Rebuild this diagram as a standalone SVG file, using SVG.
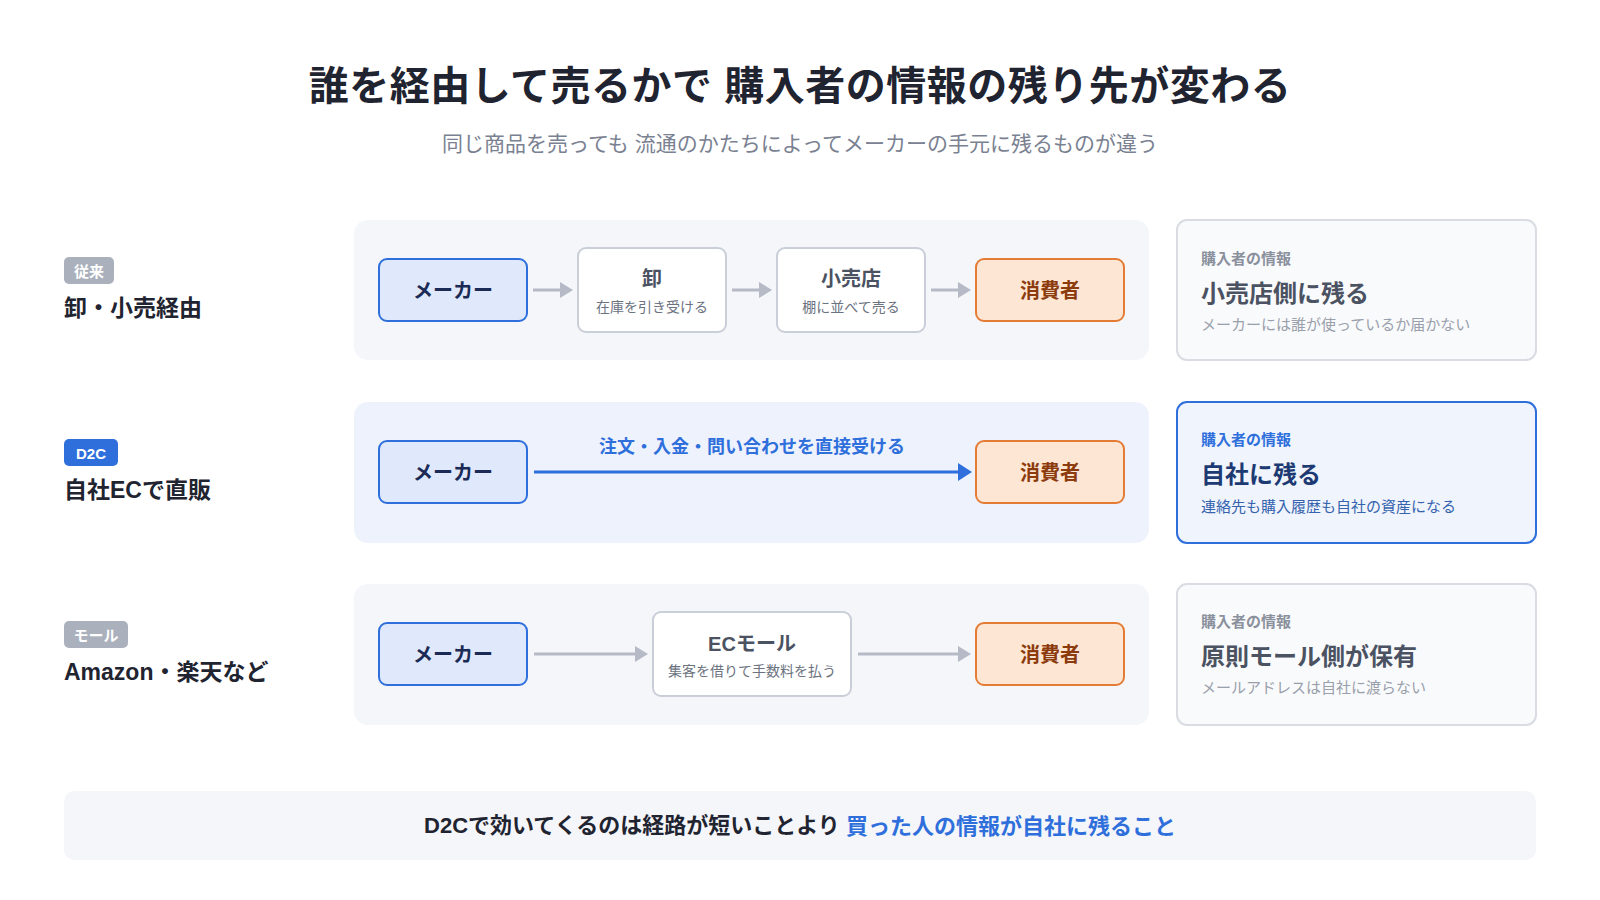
<svg xmlns="http://www.w3.org/2000/svg" width="1600" height="900" viewBox="0 0 1600 900">
  <defs>
    <style>
      text { font-family: "Liberation Sans", "Noto Sans CJK JP", sans-serif; dominant-baseline: central; }
      .title { font-size: 40px; font-weight: 700; fill: #1f2430; letter-spacing: 0.5px; }
      .subtitle { font-size: 21px; font-weight: 400; fill: #7a8191; }
      .panel { fill: #f4f6fa; }
      .panel-d2c { fill: #edf2fc; }
      .badge-gray { fill: #aab0bc; }
      .badge-blue { fill: #2f6fdc; }
      .badge-text { font-size: 15px; font-weight: 700; fill: #ffffff; }
      .row-label { font-size: 23px; font-weight: 700; fill: #1f2430; }
      .maker { fill: #dfe9fb; stroke: #2f6fdc; stroke-width: 2; }
      .maker-text { font-size: 20px; font-weight: 700; fill: #1b2b55; }
      .consumer { fill: #fde6d4; stroke: #e47c35; stroke-width: 2; }
      .consumer-text { font-size: 20px; font-weight: 700; fill: #8b3b0c; }
      .mid { fill: #ffffff; stroke: #c9ced8; stroke-width: 2; }
      .mid-title { font-size: 20px; font-weight: 700; fill: #4b5262; }
      .mid-sub { font-size: 14px; font-weight: 400; fill: #6b7280; }
      .card { fill: #f9fafc; stroke: #d9dce3; stroke-width: 2; }
      .card-blue { fill: #eff4fd; stroke: #2f6fdc; stroke-width: 2; }
      .card-label { font-size: 15px; font-weight: 700; fill: #8a909c; }
      .card-title { font-size: 24px; font-weight: 700; fill: #4b5262; }
      .card-sub { font-size: 15px; font-weight: 400; fill: #9aa0ab; }
      .card-label-blue { font-size: 15px; font-weight: 700; fill: #2f6fdc; }
      .card-title-blue { font-size: 24px; font-weight: 700; fill: #1d3a72; }
      .card-sub-blue { font-size: 15px; font-weight: 400; fill: #3563ad; }
      .arrow-gray { stroke: #b5bac6; stroke-width: 3; fill: none; marker-end: url(#head-gray); }
      .arrow-blue { stroke: #2f6fdc; stroke-width: 3; fill: none; marker-end: url(#head-blue); }
      .arrow-label { font-size: 18px; font-weight: 700; fill: #2f6fdc; }
      .footer { fill: #f4f6fa; }
      .footer-text { font-size: 22px; font-weight: 700; fill: #1f2430; }
      .footer-em { fill: #2f6fdc; }
    </style>
    <marker id="head-gray" markerUnits="userSpaceOnUse" markerWidth="13" markerHeight="16" refX="7" refY="8" orient="auto">
      <path d="M0,0 L13,8 L0,16 Z" fill="#b5bac6"/>
    </marker>
    <marker id="head-blue" markerUnits="userSpaceOnUse" markerWidth="14" markerHeight="18" refX="7" refY="9" orient="auto">
      <path d="M0,0 L14,9 L0,18 Z" fill="#2f6fdc"/>
    </marker>
  </defs>

  <rect width="1600" height="900" fill="#ffffff"/>

  <g id="header">
    <text class="title" x="800" y="86" text-anchor="middle">誰を経由して売るかで 購入者の情報の残り先が変わる</text>
    <text class="subtitle" x="800" y="143.5" text-anchor="middle">同じ商品を売っても 流通のかたちによってメーカーの手元に残るものが違う</text>
  </g>

  <!-- Row panels -->
  <g id="panels">
    <rect class="panel" x="354" y="220" width="795" height="140" rx="14"/>
    <rect class="panel-d2c" x="354" y="402" width="795" height="141" rx="14"/>
    <rect class="panel" x="354" y="584" width="795" height="141" rx="14"/>
  </g>

  <!-- Row labels -->
  <g id="label-row1">
    <rect class="badge-gray" x="64" y="257" width="50" height="27" rx="5"/>
    <text class="badge-text" x="89" y="271" text-anchor="middle">従来</text>
    <text class="row-label" x="64" y="307.5">卸・小売経由</text>
  </g>
  <g id="label-row2">
    <rect class="badge-blue" x="64" y="439" width="54" height="27" rx="5"/>
    <text class="badge-text" x="91" y="453" text-anchor="middle">D2C</text>
    <text class="row-label" x="64" y="489.5">自社ECで直販</text>
  </g>
  <g id="label-row3">
    <rect class="badge-gray" x="64" y="621" width="64" height="27" rx="5"/>
    <text class="badge-text" x="96" y="635" text-anchor="middle">モール</text>
    <text class="row-label" x="64" y="671.5">Amazon・楽天など</text>
  </g>

  <!-- Row 1 nodes -->
  <g id="r1-maker">
    <rect class="maker" x="379" y="259" width="148" height="62" rx="8"/>
    <text class="maker-text" x="453" y="290.5" text-anchor="middle">メーカー</text>
  </g>
  <g id="r1-wholesale">
    <rect class="mid" x="578" y="248" width="148" height="84" rx="8"/>
    <text class="mid-title" x="652" y="278.5" text-anchor="middle">卸</text>
    <text class="mid-sub" x="652" y="306.5" text-anchor="middle">在庫を引き受ける</text>
  </g>
  <g id="r1-retail">
    <rect class="mid" x="777" y="248" width="148" height="84" rx="8"/>
    <text class="mid-title" x="851" y="278.5" text-anchor="middle">小売店</text>
    <text class="mid-sub" x="851" y="306.5" text-anchor="middle">棚に並べて売る</text>
  </g>
  <g id="r1-consumer">
    <rect class="consumer" x="976" y="259" width="148" height="62" rx="8"/>
    <text class="consumer-text" x="1050" y="290.5" text-anchor="middle">消費者</text>
  </g>

  <!-- Row 2 nodes -->
  <g id="r2-maker">
    <rect class="maker" x="379" y="441" width="148" height="62" rx="8"/>
    <text class="maker-text" x="453" y="472.5" text-anchor="middle">メーカー</text>
  </g>
  <g id="r2-consumer">
    <rect class="consumer" x="976" y="441" width="148" height="62" rx="8"/>
    <text class="consumer-text" x="1050" y="472.5" text-anchor="middle">消費者</text>
  </g>

  <!-- Row 3 nodes -->
  <g id="r3-maker">
    <rect class="maker" x="379" y="623" width="148" height="62" rx="8"/>
    <text class="maker-text" x="453" y="654.5" text-anchor="middle">メーカー</text>
  </g>
  <g id="r3-mall">
    <rect class="mid" x="653" y="612" width="198" height="84" rx="8"/>
    <text class="mid-title" x="752" y="643.5" text-anchor="middle">ECモール</text>
    <text class="mid-sub" x="752" y="670.5" text-anchor="middle">集客を借りて手数料を払う</text>
  </g>
  <g id="r3-consumer">
    <rect class="consumer" x="976" y="623" width="148" height="62" rx="8"/>
    <text class="consumer-text" x="1050" y="654.5" text-anchor="middle">消費者</text>
  </g>

  <!-- Connectors -->
  <g id="connectors">
    <line class="arrow-gray" x1="533" y1="290" x2="567" y2="290"/>
    <line class="arrow-gray" x1="732" y1="290" x2="766" y2="290"/>
    <line class="arrow-gray" x1="931" y1="290" x2="965" y2="290"/>
    <line class="arrow-blue" x1="534" y1="472" x2="965" y2="472"/>
    <text class="arrow-label" x="752" y="446.5" text-anchor="middle">注文・入金・問い合わせを直接受ける</text>
    <line class="arrow-gray" x1="534" y1="654" x2="642" y2="654"/>
    <line class="arrow-gray" x1="858" y1="654" x2="965" y2="654"/>
  </g>

  <!-- Result cards -->
  <g id="card-row1">
    <rect class="card" x="1177" y="220" width="359" height="140" rx="10"/>
    <text class="card-label" x="1201" y="258.5">購入者の情報</text>
    <text class="card-title" x="1201" y="293">小売店側に残る</text>
    <text class="card-sub" x="1201" y="324">メーカーには誰が使っているか届かない</text>
  </g>
  <g id="card-row2">
    <rect class="card-blue" x="1177" y="402" width="359" height="141" rx="10"/>
    <text class="card-label-blue" x="1201" y="439.5">購入者の情報</text>
    <text class="card-title-blue" x="1201" y="474">自社に残る</text>
    <text class="card-sub-blue" x="1201" y="506">連絡先も購入履歴も自社の資産になる</text>
  </g>
  <g id="card-row3">
    <rect class="card" x="1177" y="584" width="359" height="141" rx="10"/>
    <text class="card-label" x="1201" y="621.5">購入者の情報</text>
    <text class="card-title" x="1201" y="656">原則モール側が保有</text>
    <text class="card-sub" x="1201" y="687">メールアドレスは自社に渡らない</text>
  </g>

  <!-- Footer -->
  <g id="footer">
    <rect class="footer" x="64" y="791" width="1472" height="69" rx="10"/>
    <text class="footer-text" x="800" y="825.5" text-anchor="middle">D2Cで効いてくるのは経路が短いことより <tspan class="footer-em">買った人の情報が自社に残ること</tspan></text>
  </g>
</svg>
